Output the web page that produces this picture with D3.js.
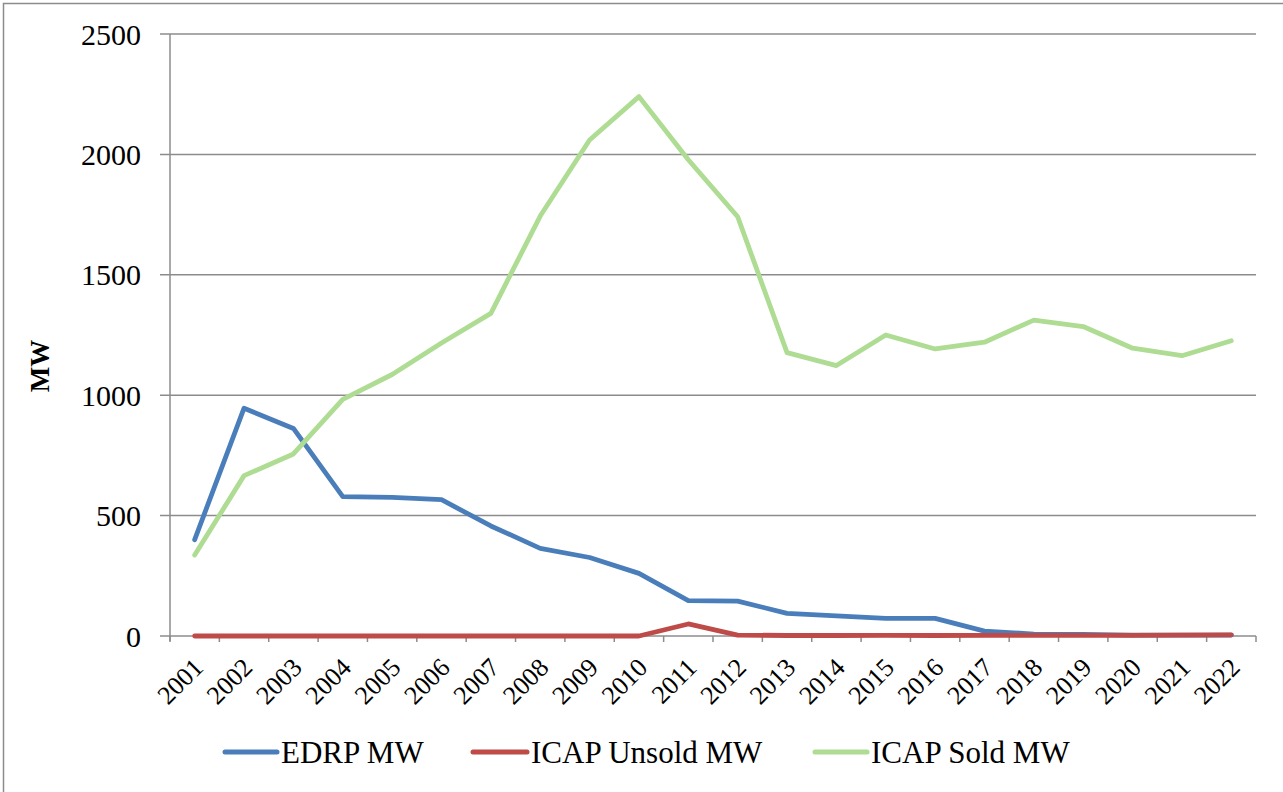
<!DOCTYPE html>
<html>
<head>
<meta charset="utf-8">
<script src="https://cdn.jsdelivr.net/npm/d3@7"></script>
<style>
  html, body { margin: 0; padding: 0; background: #fff; }
  svg { display: block; }
</style>
</head>
<body>
<svg id="chart" width="1283" height="792"></svg>
<script>
const years = ["2001","2002","2003","2004","2005","2006","2007","2008","2009","2010","2011",
               "2012","2013","2014","2015","2016","2017","2018","2019","2020","2021","2022"];
const edrpMW =       [400, 946, 862, 579, 576, 566, 457, 364, 326, 260, 147, 145, 94, 84, 73, 73, 20, 8, 7, 4, 4, 4];
const icapUnsoldMW = [0, 0, 0, 0, 0, 0, 0, 0, 0, 0, 50, 4, 2, 2, 3, 2, 3, 3, 3, 3, 4, 5];
const icapSoldMW =   [336, 666, 756, 983, 1086, 1217, 1340, 1744, 2060, 2240, 1978, 1741, 1177, 1123, 1250, 1192, 1220, 1312, 1285, 1195, 1164, 1226];
const yTicks = [0, 500, 1000, 1500, 2000, 2500];
const seriesNames = ["EDRP MW", "ICAP Unsold MW", "ICAP Sold MW"];
const seriesColors = ["#4A7EBB", "#BE4B48", "#AEDC93"];
const seriesData = [edrpMW, icapUnsoldMW, icapSoldMW];

const FONT = "'Liberation Serif', 'DejaVu Serif', 'Times New Roman', serif";
const svg = d3.select("#chart").attr("font-family", FONT);
const plotLeft = 170, plotRight = 1256, plotTop = 34, plotBottom = 636;

// outer border
svg.append("rect").attr("x", 3.5).attr("y", 3.5).attr("width", 1300).attr("height", 800)
  .attr("fill", "none").attr("stroke", "#8c8c8c").attr("stroke-width", 1.5);

const x = d3.scaleBand().domain(years).range([plotLeft, plotRight]).paddingInner(0).paddingOuter(0);
const y = d3.scaleLinear().domain([0, 2500]).range([plotBottom, plotTop]);

// gridlines
svg.append("g").selectAll("line").data(yTicks).join("line")
  .attr("x1", plotLeft - 10).attr("x2", plotRight)
  .attr("y1", d => y(d)).attr("y2", d => y(d))
  .attr("stroke", "#8c8c8c").attr("stroke-width", 1.5);

// y axis line
svg.append("line").attr("x1", plotLeft).attr("x2", plotLeft).attr("y1", plotTop).attr("y2", plotBottom + 5)
  .attr("stroke", "#8c8c8c").attr("stroke-width", 1.5);

// x tick marks at category boundaries
const bounds = years.map(d => x(d)).concat([plotRight]);
svg.append("g").selectAll("line").data(bounds).join("line")
  .attr("x1", d => d).attr("x2", d => d).attr("y1", plotBottom).attr("y2", plotBottom + 6)
  .attr("stroke", "#8c8c8c").attr("stroke-width", 1.5);

// y tick labels
svg.append("g").selectAll("text").data(yTicks).join("text")
  .attr("font-family", FONT)
  .attr("x", 141).attr("y", d => y(d) + 10.5)
  .attr("text-anchor", "end").attr("font-size", 30)
  .text(d => d);

// x tick labels (rotated)
svg.append("g").selectAll("text").data(years).join("text")
  .attr("font-family", FONT)
  .attr("transform", d => `translate(${x(d) + x.bandwidth() / 2 + 10},${plotBottom + 33}) rotate(-45)`)
  .attr("text-anchor", "end").attr("font-size", 26)
  .text(d => d);

// y axis title
svg.append("text")
  .attr("font-family", FONT)
  .attr("transform", `translate(49,366) rotate(-90)`)
  .attr("text-anchor", "middle").attr("font-size", 27).attr("font-weight", "bold")
  .text("MW");

// lines
const line = d3.line()
  .x((d, i) => x(years[i]) + x.bandwidth() / 2)
  .y(d => y(d));

seriesData.forEach((s, k) => {
  svg.append("path").datum(s)
    .attr("d", line)
    .attr("fill", "none")
    .attr("stroke", seriesColors[k])
    .attr("stroke-width", 4.8)
    .attr("stroke-linejoin", "round")
    .attr("stroke-linecap", "round");
});

// legend
const legendItems = [
  { x1: 225, x2: 277, tx: 281 },
  { x1: 473, x2: 527, tx: 531 },
  { x1: 815, x2: 867, tx: 871 }
];
const lg = svg.append("g");
legendItems.forEach((it, k) => {
  lg.append("line").attr("x1", it.x1).attr("x2", it.x2).attr("y1", 752).attr("y2", 752)
    .attr("stroke", seriesColors[k]).attr("stroke-width", 5).attr("stroke-linecap", "round");
  lg.append("text").attr("font-family", FONT)
    .attr("x", it.tx).attr("y", 763).attr("font-size", 31).text(seriesNames[k]);
});
</script>
</body>
</html>
